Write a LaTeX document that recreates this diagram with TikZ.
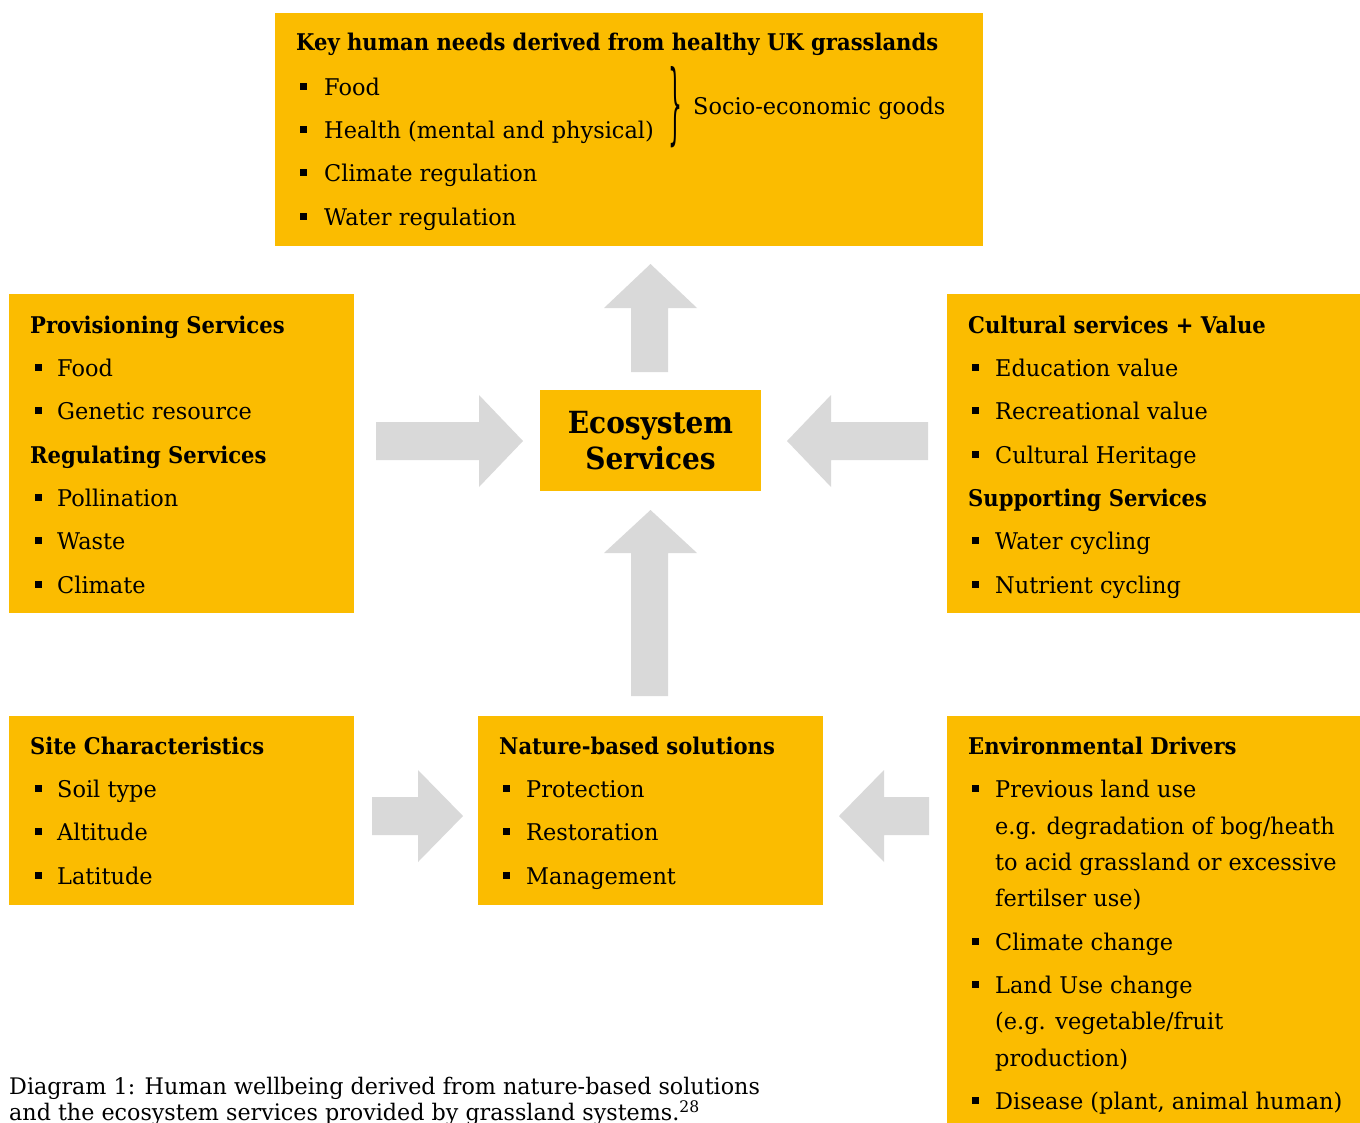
\documentclass[tikz,border=0pt]{standalone}
\usepackage{fontspec}
\usepackage{graphicx}
\setmainfont{DejaVu Serif}[UprightFeatures={FakeStretch=0.975}, BoldFeatures={FakeStretch=0.918}]
\definecolor{gold}{HTML}{FBBC00}
\definecolor{arrowgray}{HTML}{D9D9D9}
\newcommand\bl[5]{\node[blt] (#1b) at (#2,#4-8.5) {}; \node[txt] (#1) at (#3,#4) {#5};}
\newcommand\cl[4]{\node[txt] (#1) at (#2,#3) {#4};}
\tikzset{
  box/.style={fill=gold, draw=none, anchor=north west, inner sep=0pt, outer sep=0pt},
  txt/.style={anchor=base west, inner sep=0pt, font=\fontsize{23}{27}\selectfont},
  ttl/.style={anchor=base west, inner sep=0pt, font=\fontsize{23}{27}\selectfont\bfseries},
  blt/.style={fill=black, minimum size=7pt, inner sep=0pt, anchor=center},
  garrow/.style={fill=arrowgray, draw=none},
}
\begin{document}
\begin{tikzpicture}[x=1pt,y=-1pt]
\useasboundingbox (0,0) rectangle (1360,1122);
\fill[white] (0,0) rectangle (1360,1122);
% boxes
\node[box, minimum width=708pt, minimum height=233pt] (topbox) at (275,13) {};
\node[box, minimum width=345pt, minimum height=319pt] (leftbox) at (9,294) {};
\node[box, minimum width=413pt, minimum height=319pt] (rightbox) at (947,294) {};
\node[box, minimum width=221pt, minimum height=101pt] (eco) at (540,390) {};
\node[box, minimum width=345pt, minimum height=189pt] (site) at (9,716) {};
\node[box, minimum width=345pt, minimum height=189pt] (nbs) at (478,716) {};
\node[box, minimum width=413pt, minimum height=420pt] (env) at (947,716) {};
% arrows
\fill[garrow] (631,372) -- (631,308) -- (604,308) -- (650.5,264) -- (697,308) -- (668,308) -- (668,372) -- cycle;
\fill[garrow] (631,696) -- (631,553) -- (604,553) -- (650.5,510) -- (697,553) -- (668,553) -- (668,696) -- cycle;
\fill[garrow] (376,422) -- (479,422) -- (479,395) -- (523,441) -- (479,487) -- (479,460) -- (376,460) -- cycle;
\fill[garrow] (928,422) -- (831,422) -- (831,395) -- (787,441) -- (831,487) -- (831,460) -- (928,460) -- cycle;
\fill[garrow] (372,797) -- (418,797) -- (418,770) -- (463,816) -- (418,862) -- (418,835) -- (372,835) -- cycle;
\fill[garrow] (929,797) -- (884,797) -- (884,770) -- (839,816) -- (884,862) -- (884,835) -- (929,835) -- cycle;
% top box
\node[ttl] (toptitle) at (296,50) {Key human needs derived from healthy UK grasslands};
\bl{t1}{303}{324}{95}{Food}
\bl{t2}{303}{324}{138}{Health (mental and physical)}
\bl{t3}{303}{324}{181}{Climate regulation}
\bl{t4}{303}{324}{225}{Water regulation}
\node[inner sep=0pt] (brace) at (675,107.5) {\resizebox{14pt}{67pt}{\fontsize{23}{23}\selectfont\}}};
\node[txt] (socio) at (693,114) {Socio-economic goods};
% left box
\node[ttl] (provt) at (30,333) {Provisioning Services};
\bl{l1}{38}{57}{376}{Food}
\bl{l2}{38}{57}{419}{Genetic resource}
\node[ttl] (regt) at (30,463) {Regulating Services};
\bl{l3}{38}{57}{506}{Pollination}
\bl{l4}{38}{57}{549}{Waste}
\bl{l5}{38}{57}{593}{Climate}
% right box
\node[ttl] (cultt) at (968,333) {Cultural services + Value};
\bl{r1}{975}{995}{376}{Education value}
\bl{r2}{975}{995}{419}{Recreational value}
\bl{r3}{975}{995}{463}{Cultural Heritage}
\node[ttl] (suppt) at (968,506) {Supporting Services};
\bl{r4}{975}{995}{549}{Water cycling}
\bl{r5}{975}{995}{593}{Nutrient cycling}
% centre
\node[anchor=base, inner sep=0pt, font=\fontsize{30.5}{36}\selectfont\bfseries] (ecoa) at (650.5,433) {Ecosystem};
\node[anchor=base, inner sep=0pt, font=\fontsize{30.5}{36}\selectfont\bfseries] (ecob) at (650.5,469) {Services};
% site
\node[ttl] (sitet) at (30,754) {Site Characteristics};
\bl{s1}{38}{57}{797}{Soil type}
\bl{s2}{38}{57}{840}{Altitude}
\bl{s3}{38}{57}{884}{Latitude}
% nbs
\node[ttl] (nbst) at (499,754) {Nature-based solutions};
\bl{n1}{506}{526}{797}{Protection}
\bl{n2}{506}{526}{840}{Restoration}
\bl{n3}{506}{526}{884}{Management}
% env
\node[ttl] (envt) at (968,754) {Environmental Drivers};
\bl{e1}{975}{995}{797}{Previous land use}
\cl{e1a}{995}{834}{e.g. degradation of bog/heath}
\cl{e1b}{995}{870}{to acid grassland or excessive}
\cl{e1c}{995}{906}{fertilser use)}
\bl{e2}{975}{995}{950}{Climate change}
\bl{e3}{975}{995}{993}{Land Use change}
\cl{e3a}{995}{1029}{(e.g. vegetable/fruit}
\cl{e3b}{995}{1066}{production)}
\bl{e4}{975}{995}{1109}{Disease (plant, animal human)}
% caption
\node[txt, font=\fontsize{22.8}{27}\selectfont] (cap1) at (9,1094) {Diagram 1: Human wellbeing derived from nature-based solutions};
\node[txt, font=\fontsize{22.8}{27}\selectfont] (cap2) at (9,1120) {and the ecosystem services provided by grassland systems.\textsuperscript{28}};
\end{tikzpicture}
\end{document}
